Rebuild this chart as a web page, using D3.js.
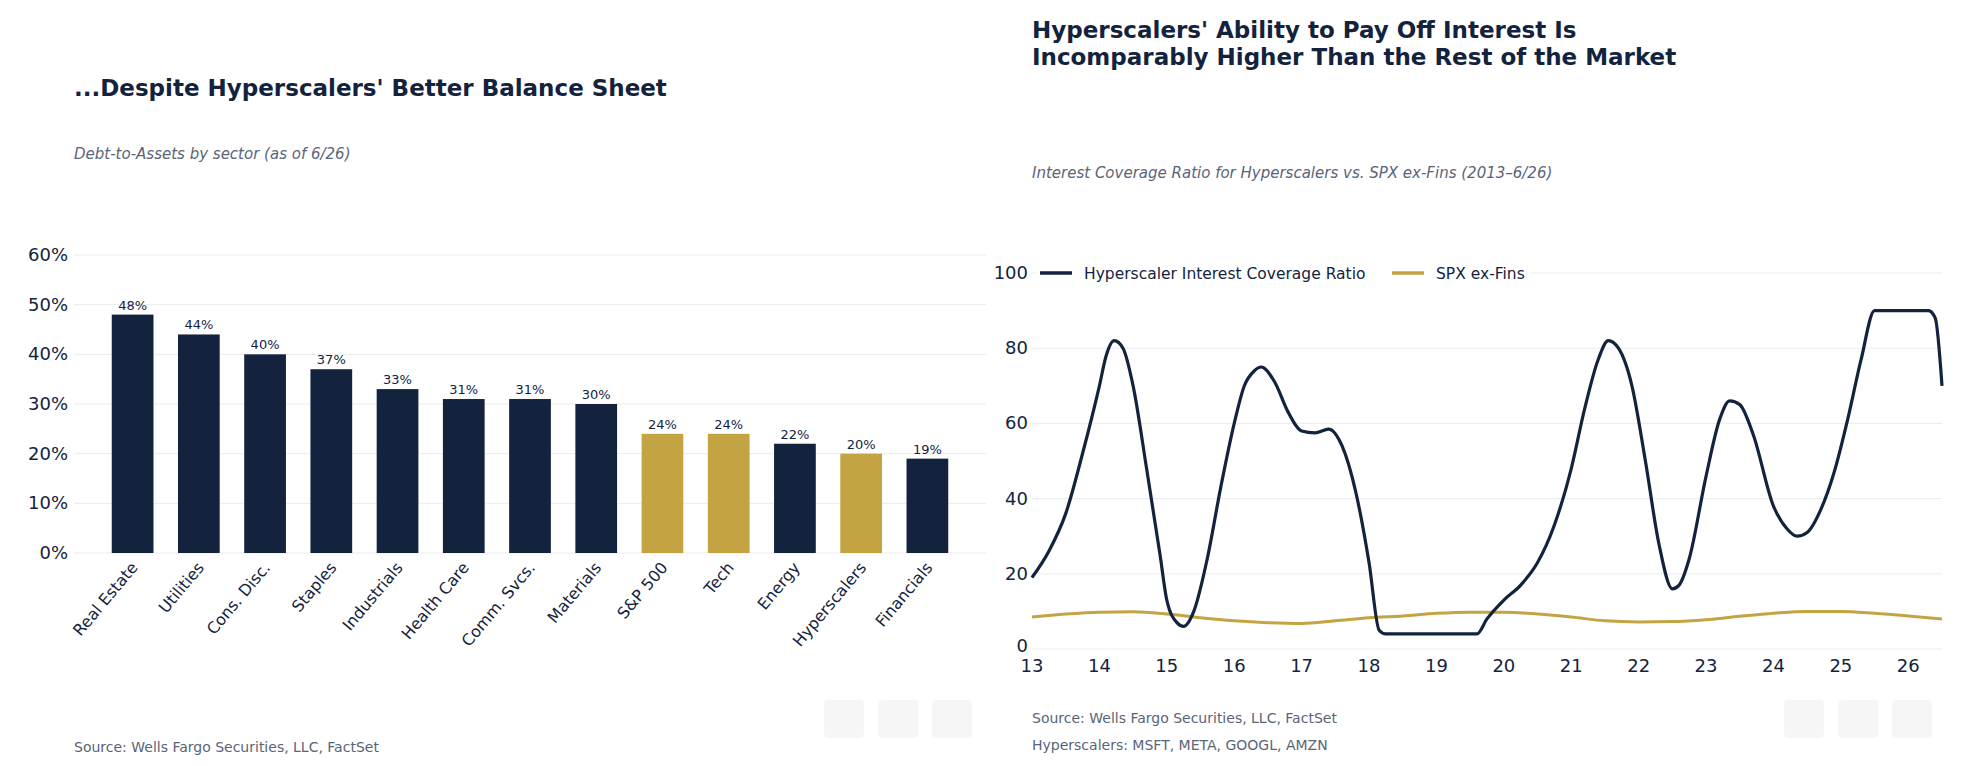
<!doctype html>
<html>
<head>
<script src="https://cdn.jsdelivr.net/npm/d3@7"></script>
<style>
  body { margin: 0; background: #fff; font-family: "DejaVu Sans", sans-serif; }
</style>
</head>
<body>
<svg width="1970" height="766"></svg>
<script>
// left chart data
var sectors = ["Real Estate", "Utilities", "Cons. Disc.", "Staples", "Industrials", "Health Care",
  "Comm. Svcs.", "Materials", "S&P 500", "Tech", "Energy", "Hyperscalers", "Financials"];
var debtToAssets = [48, 44, 40, 37, 33, 31, 31, 30, 24, 24, 22, 20, 19];
var highlighted = ["S&P 500", "Tech", "Hyperscalers"];
var pctTicks = [0, 10, 20, 30, 40, 50, 60];

// right chart data (x = year, 13 = 2013)
var hyperX = [13, 13.25, 13.5, 13.75, 14, 14.1, 14.22, 14.35, 14.5, 14.7, 14.9, 15, 15.15, 15.25, 15.4, 15.6, 15.8, 16, 16.15, 16.3, 16.4, 16.6, 16.8, 17, 17.2, 17.4, 17.6, 17.8, 18, 18.15, 18.25, 19.6, 19.75, 20, 20.25, 20.5, 20.75, 21, 21.2, 21.4, 21.55, 21.7, 21.9, 22.1, 22.3, 22.5, 22.6, 22.75, 23, 23.2, 23.35, 23.5, 23.7, 24, 24.2, 24.35, 24.5, 24.7, 24.9, 25.1, 25.3, 25.5, 25.7, 26.3, 26.4, 26.5];
var hyperY = [19, 26, 36, 52, 70, 78, 82, 80, 70, 48, 25, 13, 7, 6, 10, 24, 43, 60, 70, 74, 75, 71, 63, 58, 57.5, 58.5, 54, 42, 23, 5, 4, 4, 8, 13, 17, 23, 33, 48, 64, 77, 82, 80, 70, 50, 28, 16, 17, 24, 46, 61, 66, 65, 57, 38, 32, 30, 31, 37, 47, 61, 77, 90, 90, 90, 88, 70];
var spxX = [13, 13.5, 14, 14.5, 15, 15.5, 16, 16.5, 17, 17.5, 18, 18.5, 19, 19.5, 20, 20.5, 21, 21.5, 22, 22.5, 23, 23.5, 24, 24.5, 25, 25.5, 26, 26.5];
var spxY = [8.5, 9.3, 9.8, 9.9, 9.3, 8.3, 7.5, 7, 6.8, 7.5, 8.3, 8.8, 9.5, 9.8, 9.8, 9.3, 8.5, 7.5, 7.2, 7.3, 7.8, 8.7, 9.5, 10, 10, 9.5, 8.8, 8];
var yearTicks = [13, 14, 15, 16, 17, 18, 19, 20, 21, 22, 23, 24, 25, 26];
var ratioTicks = [0, 20, 40, 60, 80, 100];

var navy = "#13233d", gold = "#c4a442", grid = "#e9ebef", muted = "#5a6478";
var svg = d3.select("svg");

function text(x, y, s, size, opts) {
  opts = opts || {};
  return svg.append("text").attr("x", x).attr("y", y).text(s)
    .style("font-size", size + "px")
    .style("font-weight", opts.bold ? "bold" : "normal")
    .style("font-style", opts.italic ? "italic" : "normal")
    .attr("fill", opts.color || navy);
}

// ---------- left chart ----------
text(74, 96, "...Despite Hyperscalers' Better Balance Sheet", 23, {bold: true});
text(74, 159, "Debt-to-Assets by sector (as of 6/26)", 15, {italic: true, color: muted});
text(74, 752, "Source: Wells Fargo Securities, LLC, FactSet", 14, {color: muted});

var lx = d3.scaleBand().domain(sectors).range([74, 986]).paddingInner(0.37).paddingOuter(0.57);
var ly = d3.scaleLinear().domain([0, 60]).range([553, 255]);
var lg = svg.append("g");
lg.selectAll("line.g").data(pctTicks).enter().append("line")
  .attr("x1", 74).attr("x2", 986).attr("y1", d => ly(d)).attr("y2", d => ly(d))
  .attr("stroke", grid);
lg.selectAll("text.t").data(pctTicks).enter().append("text")
  .attr("x", 68).attr("y", d => ly(d) + 6).attr("text-anchor", "end")
  .style("font-size", "18px").attr("fill", navy).text(d => d + "%");
lg.selectAll("rect").data(sectors).enter().append("rect")
  .attr("x", d => lx(d)).attr("width", lx.bandwidth())
  .attr("y", (d, i) => ly(debtToAssets[i])).attr("height", (d, i) => ly(0) - ly(debtToAssets[i]))
  .attr("fill", d => highlighted.includes(d) ? gold : navy);
lg.selectAll("text.v").data(sectors).enter().append("text")
  .attr("x", d => lx(d) + lx.bandwidth() / 2).attr("y", (d, i) => ly(debtToAssets[i]) - 5)
  .attr("text-anchor", "middle").style("font-size", "13px").attr("fill", navy)
  .text((d, i) => debtToAssets[i] + "%");
lg.selectAll("text.c").data(sectors).enter().append("text")
  .attr("transform", d => "translate(" + (lx(d) + lx.bandwidth() / 2 + 6) + ",568) rotate(-50)")
  .attr("text-anchor", "end").style("font-size", "16px").attr("fill", navy).text(d => d);

// ---------- right chart ----------
text(1032, 38, "Hyperscalers' Ability to Pay Off Interest Is", 23, {bold: true});
text(1032, 65, "Incomparably Higher Than the Rest of the Market", 23, {bold: true});
text(1032, 178, "Interest Coverage Ratio for Hyperscalers vs. SPX ex-Fins (2013\u20136/26)", 15, {italic: true, color: muted});
text(1032, 723, "Source: Wells Fargo Securities, LLC, FactSet", 14, {color: muted});
text(1032, 750, "Hyperscalers: MSFT, META, GOOGL, AMZN", 14, {color: muted});

var rx = d3.scaleLinear().domain([13, 26.5]).range([1032, 1942]);
var ry = d3.scaleLinear().domain([0, 100]).range([649, 273]);
var rg = svg.append("g");
rg.selectAll("line.g").data(ratioTicks).enter().append("line")
  .attr("x1", 1032).attr("x2", 1942).attr("y1", d => ry(d)).attr("y2", d => ry(d))
  .attr("stroke", grid);
rg.selectAll("text.t").data(ratioTicks).enter().append("text")
  .attr("x", 1028).attr("y", d => ry(d) + (d === 0 ? 3 : 6)).attr("text-anchor", "end")
  .style("font-size", "18px").attr("fill", navy).text(d => d);
rg.selectAll("text.x").data(yearTicks).enter().append("text")
  .attr("x", d => rx(d)).attr("y", 672).attr("text-anchor", "middle")
  .style("font-size", "18px").attr("fill", navy).text(d => d);

var line = d3.line().x(d => rx(d[0])).y(d => ry(d[1])).curve(d3.curveMonotoneX);
rg.append("path").datum(spxX.map((x, i) => [x, spxY[i]])).attr("d", line)
  .attr("fill", "none").attr("stroke", gold).attr("stroke-width", 3);
rg.append("path").datum(hyperX.map((x, i) => [x, hyperY[i]])).attr("d", line)
  .attr("fill", "none").attr("stroke", navy).attr("stroke-width", 3.2);

// legend over the 100 gridline
var leg = [["Hyperscaler Interest Coverage Ratio", navy, 1040], ["SPX ex-Fins", gold, 1392]];
leg.forEach(function (l) {
  svg.append("rect").attr("x", l[2] - 4).attr("y", 262).attr("width", l[0].length * 9 + 44).attr("height", 22).attr("fill", "#fff");
  svg.append("line").attr("x1", l[2]).attr("x2", l[2] + 32).attr("y1", 273).attr("y2", 273)
    .attr("stroke", l[1]).attr("stroke-width", 3.5);
  text(l[2] + 44, 279, l[0], 15.5);
});

// faint toolbar icons
[[824, 700], [878, 700], [932, 700], [1784, 700], [1838, 700], [1892, 700]].forEach(function (p) {
  svg.append("rect").attr("x", p[0]).attr("y", p[1]).attr("width", 40).attr("height", 38)
    .attr("rx", 4).attr("fill", "#f6f6f7");
});
</script>
</body>
</html>
